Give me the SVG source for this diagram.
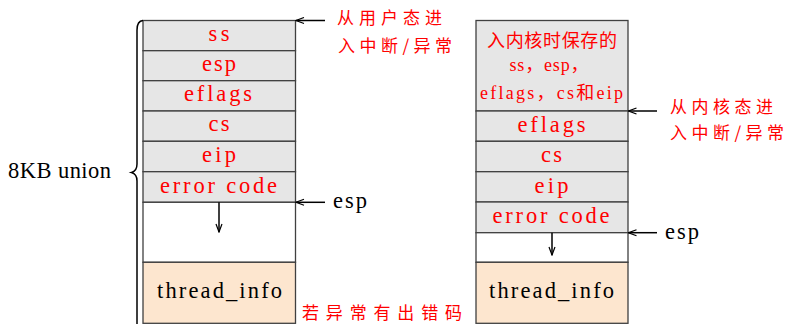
<svg xmlns="http://www.w3.org/2000/svg" width="785" height="324" viewBox="0 0 785 324">
<defs>
<style>
.cell{fill:#e6e6e6;stroke:#404040;stroke-width:1.3}
.blank{fill:#ffffff;stroke:#404040;stroke-width:1.3}
.ti{fill:#fde6cf;stroke:#404040;stroke-width:1.3}
.rt{font-family:"Liberation Serif","Noto Sans CJK SC",serif;font-size:22.5px;fill:#ff0000;text-anchor:middle}
.rs{font-family:"Liberation Serif","Noto Sans CJK SC",serif;font-size:18px;fill:#ff0000;text-anchor:middle}
.bt{font-family:"Liberation Serif","Noto Sans CJK SC",serif;font-size:22.5px;fill:#000000}
.cn{font-family:"Noto Sans CJK SC",sans-serif;font-size:17px;fill:#ff0000}
.ln{stroke:#000;stroke-width:1.5;fill:none}
</style>
<marker id="ah" markerWidth="10" markerHeight="8" refX="9" refY="4" orient="auto" markerUnits="userSpaceOnUse">
<path d="M1,1 L9,4 L1,7" fill="none" stroke="#000" stroke-width="1.2"/>
</marker>
</defs>
<rect width="785" height="324" fill="#ffffff"/>

<g id="left-stack">
<rect class="cell" x="143" y="20.5" width="152.5" height="30.2"/>
<rect class="cell" x="143" y="50.7" width="152.5" height="30"/>
<rect class="cell" x="143" y="80.7" width="152.5" height="30.3"/>
<rect class="cell" x="143" y="111" width="152.5" height="30.3"/>
<rect class="cell" x="143" y="141.3" width="152.5" height="30.4"/>
<rect class="cell" x="143" y="171.7" width="152.5" height="30.6"/>
<rect class="blank" x="143" y="202.3" width="152.5" height="60"/>
<rect class="ti" x="143" y="262.3" width="152.5" height="61"/>
<text class="rt" x="219" y="40.7" textLength="21" lengthAdjust="spacing">ss</text>
<text class="rt" x="219" y="70.7" textLength="34" lengthAdjust="spacing">esp</text>
<text class="rt" x="218" y="101" textLength="68" lengthAdjust="spacing">eflags</text>
<text class="rt" x="219" y="130.5" textLength="21" lengthAdjust="spacing">cs</text>
<text class="rt" x="219" y="161.5" textLength="34" lengthAdjust="spacing">eip</text>
<text class="rt" x="218.5" y="193.3" textLength="117" lengthAdjust="spacing">error code</text>
<text class="bt" x="219.5" y="298.3" text-anchor="middle" textLength="125" lengthAdjust="spacing">thread_info</text>
</g>

<g id="right-stack">
<rect class="cell" x="476" y="20.5" width="152" height="90.5"/>
<rect class="cell" x="476" y="111" width="152" height="30.3"/>
<rect class="cell" x="476" y="141.3" width="152" height="30.4"/>
<rect class="cell" x="476" y="171.7" width="152" height="30.3"/>
<rect class="cell" x="476" y="202" width="152" height="30.7"/>
<rect class="blank" x="476" y="232.7" width="152" height="29.6"/>
<rect class="ti" x="476" y="262.3" width="152" height="61"/>
<text class="rs" x="552" y="47" textLength="130" lengthAdjust="spacing" font-family="Noto Sans CJK SC" font-size="16">入内核时保存的</text>
<text class="rs" x="549" y="71" textLength="79" lengthAdjust="spacing">ss，esp，</text>
<text class="rs" x="551.5" y="99" textLength="143" lengthAdjust="spacing">eflags，cs和eip</text>
<text class="rt" x="551.5" y="131.7" textLength="68" lengthAdjust="spacing">eflags</text>
<text class="rt" x="551.5" y="161.7" textLength="21" lengthAdjust="spacing">cs</text>
<text class="rt" x="551.5" y="192.7" textLength="34" lengthAdjust="spacing">eip</text>
<text class="rt" x="551" y="223.3" textLength="117" lengthAdjust="spacing">error code</text>
<text class="bt" x="551.5" y="298.3" text-anchor="middle" textLength="125" lengthAdjust="spacing">thread_info</text>
</g>

<g id="brace">
<path class="ln" d="M143,20.5 Q137,21 137,30 L137,164 Q137,171 131.5,172.5 Q137,174 137,181 L137,324" stroke-width="2"/>
<text class="bt" x="8" y="178.3" textLength="103" lengthAdjust="spacing">8KB union</text>
</g>

<g id="labels">
<text class="cn" x="337" y="24" textLength="105" lengthAdjust="spacing">从用户态进</text>
<text class="cn" x="338" y="52" textLength="114" lengthAdjust="spacing">入中断/异常</text>
<text class="cn" x="302" y="319" textLength="160" lengthAdjust="spacing" font-size="18">若异常有出错码</text>
<text class="cn" x="670" y="113" textLength="103" lengthAdjust="spacing">从内核态进</text>
<text class="cn" x="670" y="139" textLength="114" lengthAdjust="spacing">入中断/异常</text>
<text class="bt" x="333" y="208" textLength="34" lengthAdjust="spacing">esp</text>
<text class="bt" x="665" y="238.5" textLength="34" lengthAdjust="spacing">esp</text>
</g>

<g id="connectors">
<line class="ln" x1="325" y1="20.5" x2="296" y2="20.5" marker-end="url(#ah)"/>
<line class="ln" x1="325" y1="202.3" x2="296" y2="202.3" marker-end="url(#ah)"/>
<line class="ln" x1="219" y1="202.3" x2="219" y2="232" marker-end="url(#ah)"/>
<line class="ln" x1="657" y1="111" x2="628.5" y2="111" marker-end="url(#ah)"/>
<line class="ln" x1="657" y1="232.7" x2="628.5" y2="232.7" marker-end="url(#ah)"/>
<line class="ln" x1="552" y1="232.7" x2="552" y2="255" marker-end="url(#ah)"/>
</g>
</svg>
